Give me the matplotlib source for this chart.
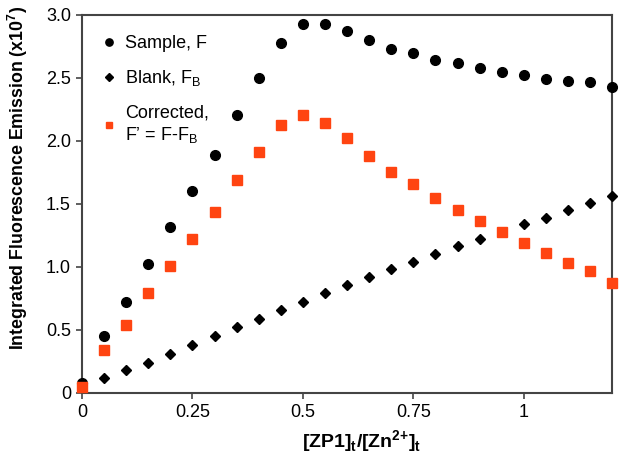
import numpy as np
import matplotlib
matplotlib.use('Agg')
import matplotlib.pyplot as plt

plt.rcParams['font.family'] = ['Liberation Sans', 'DejaVu Sans']
plt.rcParams['mathtext.fontset'] = 'custom'
plt.rcParams['mathtext.rm'] = 'Liberation Sans'
plt.rcParams['mathtext.bf'] = 'Liberation Sans:bold'

ratio = [0, 0.05, 0.1, 0.15, 0.2, 0.25, 0.3, 0.35, 0.4, 0.45, 0.5, 0.55, 0.6,
         0.65, 0.7, 0.75, 0.8, 0.85, 0.9, 0.95, 1.0, 1.05, 1.1, 1.15, 1.2]
sample = [0.08, 0.455, 0.72, 1.02, 1.32, 1.60, 1.89, 2.21, 2.50, 2.78, 2.93, 2.925,
          2.87, 2.80, 2.73, 2.70, 2.645, 2.615, 2.58, 2.55, 2.52, 2.49, 2.48, 2.465, 2.43]
blank = [0.05, 0.12, 0.18, 0.24, 0.31, 0.38, 0.455, 0.52, 0.59, 0.66, 0.725, 0.79,
         0.86, 0.92, 0.985, 1.04, 1.105, 1.165, 1.22, 1.28, 1.34, 1.39, 1.45, 1.51, 1.56]
corrected = [0.05, 0.34, 0.54, 0.79, 1.01, 1.22, 1.44, 1.69, 1.915, 2.13, 2.21, 2.14,
             2.02, 1.88, 1.75, 1.66, 1.55, 1.455, 1.365, 1.275, 1.19, 1.11, 1.035, 0.97, 0.875]

orange = '#FF4411'

fig = plt.figure(figsize=(6.24, 4.54), dpi=100)
ax = fig.add_axes([0.1314, 0.1344, 0.981 - 0.1314, 0.967 - 0.1344])

ax.plot(ratio, sample, linestyle='none', marker='o', ms=7, color='black',
        clip_on=False, label='Sample, F', zorder=3)
ax.plot(ratio, blank, linestyle='none', marker='D', ms=5.5, color='black',
        clip_on=False, label='Blank, F$_\\mathrm{B}$', zorder=3)
ax.plot(ratio, corrected, linestyle='none', marker='s', ms=6.5, color=orange,
        clip_on=False, label='Corrected,\nF\u2019 = F-F$_\\mathrm{B}$', zorder=4)

ax.set_xlim(0, 1.2)
ax.set_ylim(0, 3.0)
ax.set_xticks([0, 0.25, 0.5, 0.75, 1])
ax.set_xticklabels(['0', '0.25', '0.5', '0.75', '1'])
ax.set_yticks([0, 0.5, 1.0, 1.5, 2.0, 2.5, 3.0])
ax.set_yticklabels(['0', '0.5', '1.0', '1.5', '2.0', '2.5', '3.0'])
ax.tick_params(axis='both', which='major', labelsize=13, direction='out',
               length=4, width=1.2, color='#444444', pad=4)

for spine in ax.spines.values():
    spine.set_linewidth(1.5)
    spine.set_color('#444444')

ax.set_xlabel('[ZP1]$_\\mathbf{t}$/[Zn$^{\\mathbf{2{+}}}$]$_\\mathbf{t}$', fontsize=14,
              fontweight='bold')
ax.xaxis.set_label_coords(0.528, -0.095)
ax.set_ylabel('Integrated Fluorescence Emission (x10$^\\mathbf{7}$)', fontsize=12.8,
              fontweight='bold')
ax.yaxis.set_label_coords(-0.098, 0.569)

ax.legend(loc='upper left', bbox_to_anchor=(0.0, 0.99), frameon=False, fontsize=13,
          markerscale=0.75, handletextpad=0.3, handlelength=1.2, labelspacing=0.9)

plt.savefig('out.png', dpi=100)
